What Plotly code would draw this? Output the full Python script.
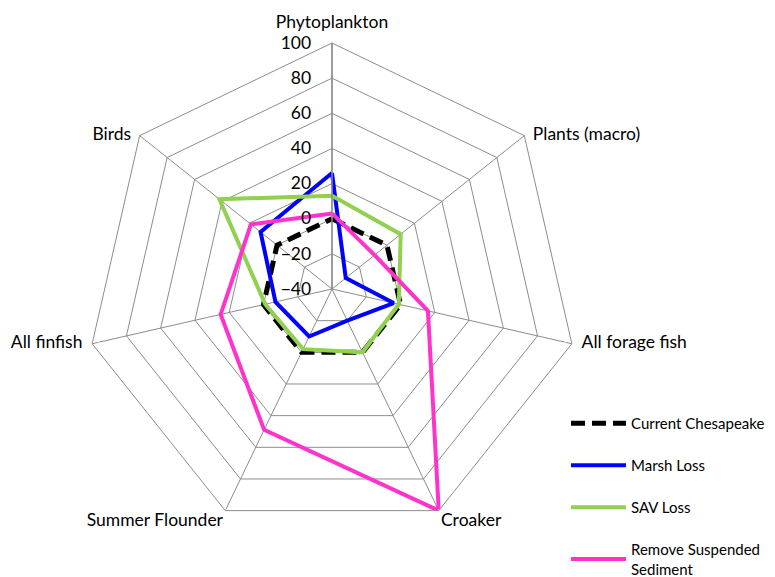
import plotly.graph_objects as go

categories = ["Phytoplankton", "Plants (macro)", "All forage fish", "Croaker",
              "Summer Flounder", "All finfish", "Birds"]
current_chesapeake = [0, 0, 0, 0, 0, 0, 0]
marsh_loss = [26, -30, -4, -20, -10, -7, 12]
sav_loss = [13, 10, -1, 0, -2, -1, 42]
remove_sediment = [3, -9, 16, 100, 49, 25, 19]
radial_ticks = [-40, -20, 0, 20, 40, 60, 80, 100]
R_MAX = 100

series = [
    ("Current Chesapeake", current_chesapeake, "black", "14px,7px", 5),
    ("Marsh Loss", marsh_loss, "#0000FF", "solid", 4),
    ("SAV Loss", sav_loss, "#92D050", "solid", 4),
    ("Remove Suspended<br>Sediment", remove_sediment, "#FF33CC", "solid", 4),
]

FONT = "Lato, Carlito, Calibri, sans-serif"
W, H = 775, 577
OFF = 8  # page body margin offset

fig = go.Figure()
for i, (name, vals, color, dash, w) in enumerate(series):
    fig.add_trace(go.Scatterpolar(
        r=vals + vals[:1],
        theta=categories + categories[:1],
        mode="lines",
        name=name,
        legendgroup=f"g{i}",
        line=dict(color=color, width=w, dash=dash),
    ))

# category labels placed at the outer ring through the polar scale
label_pos = ["top center", "middle right", "middle right", "bottom right",
             "bottom left", "middle left", "middle left"]
label_pad = [16, 12, 14, 2, 2, 14, 12]
fig.add_trace(go.Scatterpolar(
    r=[R_MAX] * len(categories),
    theta=categories,
    mode="markers+text",
    text=categories,
    textposition=label_pos,
    textfont=dict(size=17.5, family=FONT, color="black"),
    marker=dict(size=label_pad, color="rgba(0,0,0,0)"),
    cliponaxis=False,
    showlegend=False,
    hoverinfo="skip",
))

fig.update_layout(
    width=W, height=H,
    margin=dict(l=0, r=0, t=0, b=0, autoexpand=False),
    paper_bgcolor="white",
    font=dict(family=FONT, size=17.5, color="black"),
    polar=dict(
        domain=dict(x=[(86 - OFF) / W, (578 - OFF) / W],
                    y=[1 - (535 - OFF) / H, 1 - (43 - OFF) / H]),
        bgcolor="white",
        gridshape="linear",
        radialaxis=dict(
            range=[-40, R_MAX], tickvals=radial_ticks, angle=90,
            side="counterclockwise", tickangle=90,
            showline=True, linecolor="#8c8c8c", linewidth=1.5,
            gridcolor="#8c8c8c", gridwidth=1,
            ticks="outside", ticklen=14, tickcolor="rgba(0,0,0,0)",
            tickfont=dict(size=17.5, family=FONT, color="black"),
        ),
        angularaxis=dict(
            rotation=90, direction="clockwise",
            showline=True, linecolor="#8c8c8c", linewidth=1,
            gridcolor="#8c8c8c", gridwidth=1,
            ticks="", showticklabels=False,
        ),
    ),
    legend=dict(
        x=558 / W, y=1 - 399 / H, xanchor="left", yanchor="top",
        font=dict(size=15, family=FONT, color="black"),
        tracegroupgap=19.5, itemwidth=55, bgcolor="rgba(0,0,0,0)",
    ),
)

fig.write_html("out.html")
